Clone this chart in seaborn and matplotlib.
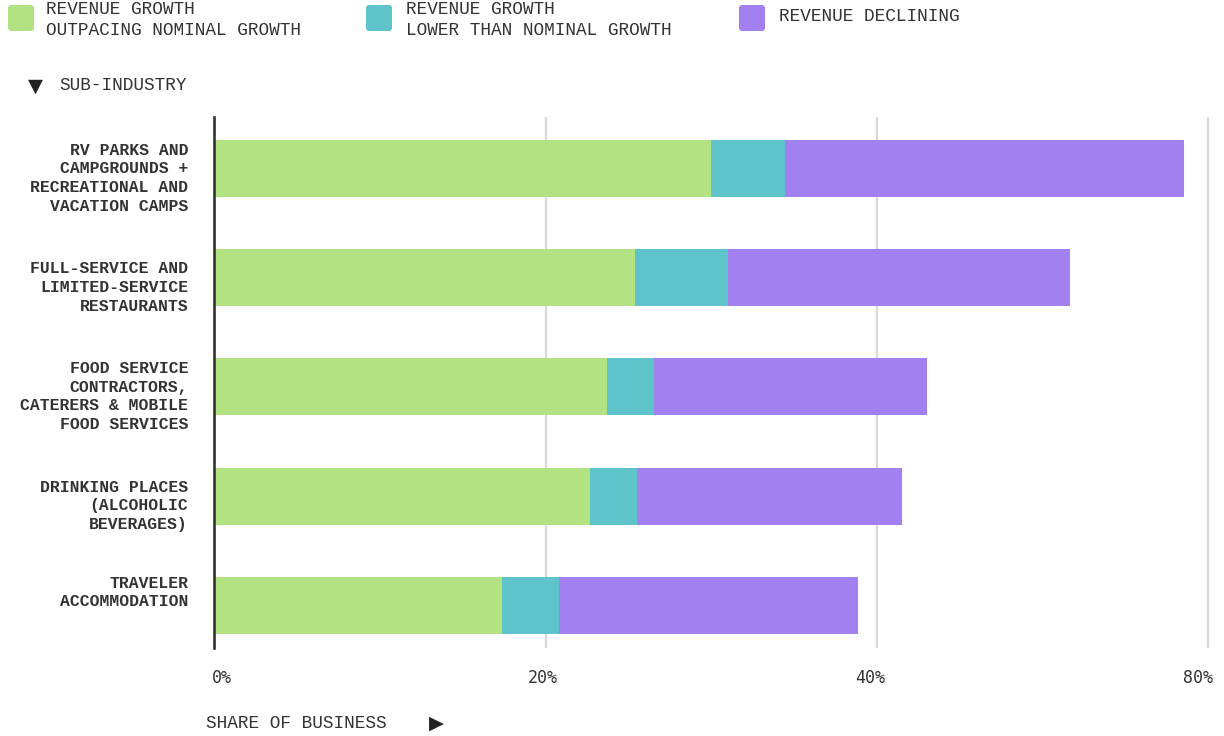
import matplotlib
matplotlib.use("Agg")
import matplotlib.pyplot as plt
import matplotlib.transforms as mtransforms
import seaborn as sns
import pandas as pd
from matplotlib.patches import FancyBboxPatch

# ---------------- data ----------------
categories = [
    "RV PARKS AND\nCAMPGROUNDS +\nRECREATIONAL AND\nVACATION CAMPS",
    "FULL-SERVICE AND\nLIMITED-SERVICE\nRESTAURANTS",
    "FOOD SERVICE\nCONTRACTORS,\nCATERERS & MOBILE\nFOOD SERVICES",
    "DRINKING PLACES\n(ALCOHOLIC\nBEVERAGES)",
    "TRAVELER\nACCOMMODATION",
]
outpacing = [30.0, 25.4, 23.7, 22.7, 17.4]
lower = [4.5, 5.6, 2.85, 2.85, 3.4]
declining = [24.05, 20.7, 16.5, 16.0, 18.1]

series_names = [
    "REVENUE GROWTH\nOUTPACING NOMINAL GROWTH",
    "REVENUE GROWTH\nLOWER THAN NOMINAL GROWTH",
    "REVENUE DECLINING",
]
colors = ["#b3e283", "#5fc4c9", "#a380ef"]
xtick_values = [0, 20, 40, 60]
xtick_labels = ["0%", "20%", "40%", "80%"]
y_title = "SUB-INDUSTRY"
x_title = "SHARE OF BUSINESS"

# ---------------- style ----------------
sns.set_theme(style="white")
plt.rcParams["font.family"] = ["Liberation Mono", "DejaVu Sans"]
TEXT = "#333333"

W, H = 1224, 736
fig = plt.figure(figsize=(W / 100, H / 100), dpi=100)
ax = fig.add_axes([214.5 / W, 88 / H, 1001 / W, 531 / H])

df = pd.DataFrame({
    "category": categories,
    "outpacing": outpacing,
    "lower": lower,
    "declining": declining,
})
df["cum2"] = df["outpacing"] + df["lower"]
df["cum3"] = df["cum2"] + df["declining"]

for col, color in zip(["cum3", "cum2", "outpacing"], colors[::-1]):
    sns.barplot(data=df, x=col, y="category", orient="h", color=color,
                saturation=1, width=0.52, errorbar=None, linewidth=0,
                edgecolor="none", ax=ax, zorder=2)

ax.set_xlim(0, 1001 / 16.55)
ax.set_ylim(4.39, -0.47)
ax.set_xlabel("")
ax.set_ylabel("")

ax.set_xticks(xtick_values)
ax.set_xticklabels(xtick_labels)
ax.xaxis.grid(True, color="#d9d9d9", linewidth=1.6, zorder=0)
ax.yaxis.grid(False)
ax.set_axisbelow(True)

for s in ["top", "right", "bottom"]:
    ax.spines[s].set_visible(False)
ax.spines["left"].set_color("#333333")
ax.spines["left"].set_linewidth(1.9)
ax.spines["left"].set_zorder(5)

ax.tick_params(axis="both", length=0)
ax.tick_params(axis="x", pad=15, labelsize=12, labelcolor=TEXT)
ax.tick_params(axis="y", pad=19, labelsize=11.8, labelcolor=TEXT)
for lbl in ax.get_yticklabels():
    lbl.set_fontweight("bold")
    lbl.set_linespacing(1.3)
    nlines = lbl.get_text().count("\n") + 1
    shift_px = 6.5 if nlines >= 3 else -16
    lbl.set_transform(lbl.get_transform() + mtransforms.ScaledTranslation(
        0, -shift_px / 100, fig.dpi_scale_trans))
# the reference's tick labels drift slightly left of their gridlines
for i, lbl in enumerate(ax.get_xticklabels()):
    lbl.set_family(["DejaVu Sans Mono"])
    dx_px = 7 if i == 0 else -3 * i
    lbl.set_transform(lbl.get_transform() + mtransforms.ScaledTranslation(
        dx_px / 100, 0, fig.dpi_scale_trans))

# ---------------- axis titles ----------------
meta = dict(fontsize=12.8, color=TEXT)
fig.text(59 / W, 1 - 86 / H, y_title, va="center", ha="left", **meta)
fig.text(35 / W, 1 - 86 / H, "\u25BC", va="center", ha="center",
         fontsize=14, color="#222222", family=["DejaVu Sans"])
fig.text(206 / W, 1 - 723 / H, x_title, va="center", ha="left", **meta)
fig.text(436 / W, 1 - 723 / H, "\u25B6", va="center", ha="center",
         fontsize=14, color="#222222", family=["DejaVu Sans"])

# ---------------- legend ----------------
sw_x = [8, 366, 739]
tx_x = [46, 406, 779]
for name, color, sx, tx in zip(series_names, colors, sw_x, tx_x):
    patch = FancyBboxPatch((sx / 100, (H - 31) / 100), 0.26, 0.26,
                           boxstyle="round,pad=0,rounding_size=0.03",
                           transform=fig.dpi_scale_trans, facecolor=color,
                           edgecolor="none")
    fig.patches.append(patch)
    cy = 20 if "\n" in name else 16.5
    fig.text(tx / W, 1 - cy / H, name, va="center", ha="left",
             linespacing=1.3, **meta)

fig.savefig("out.png", dpi=100)
